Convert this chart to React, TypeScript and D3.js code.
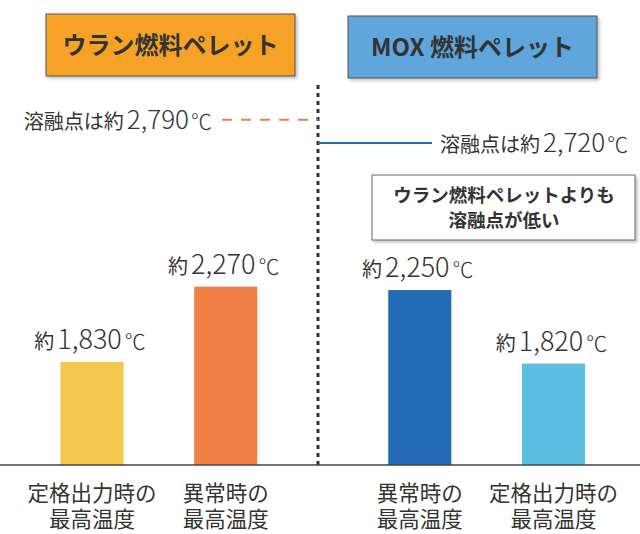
import React from 'react';
import * as d3 from 'd3';

// data
const groupNames = ['ウラン燃料ペレット', 'MOX 燃料ペレット'];
const uraniumCategories = ['定格出力時の最高温度', '異常時の最高温度'];
const uraniumTemps = [1830, 2270];
const moxCategories = ['異常時の最高温度', '定格出力時の最高温度'];
const moxTemps = [2250, 1820];
const meltingPoints = [2790, 2720];
const barColors = [['#f2c94c', '#f07f46'], ['#236bb5', '#5bbee2']];
const headerColors = ['#f5a228', '#5ea6dc'];
const noteLines = ['ウラン燃料ペレットよりも', '溶融点が低い'];

const W = 640;
const H = 534;
const baseY = 465;
const dividerX = 318;
const FONT = '"Noto Sans CJK JP", "Noto Sans", sans-serif';
const TEXT = '#333';

const groups = [
  { name: groupNames[0], cats: uraniumCategories, temps: uraniumTemps, colors: barColors[0] },
  { name: groupNames[1], cats: moxCategories, temps: moxTemps, colors: barColors[1] },
];

// picture is not drawn to scale: a break above the bars
const y = d3.scaleLinear().domain([1227, 2300, 2800]).range([baseY, 281.5, 116.5]);

const xGroup = d3.scaleBand<string>().domain(groupNames).range([-5, 650.5]);
const xInner = d3.scaleBand<number>().domain([0, 1]).range([0, xGroup.bandwidth()])
  .paddingInner(0.528).paddingOuter(0.49);

const fmt = d3.format(',');

function splitCat(c: string) {
  const i = c.indexOf('の');
  return [c.slice(0, i + 1), c.slice(i + 1)];
}

function TempText({ x, yy, value, pre, anchor }: { x: number; yy: number; value: number; pre: string; anchor: string }) {
  return (
    <text x={x} y={yy} textAnchor={anchor} fill={TEXT} fontFamily={FONT}>
      <tspan fontSize={20}>{pre}</tspan>
      <tspan fontSize={27} fontWeight={300} dx={3}>{fmt(value)}</tspan>
      <tspan fontSize={21} fontWeight={300} dx={3}>℃</tspan>
    </text>
  );
}

export default function App() {
  const headers = [
    { x: 46, y: 14, w: 249, h: 62 },
    { x: 348, y: 16, w: 249, h: 62 },
  ];
  return (
    <svg width={W} height={H} style={{ position: 'absolute', left: 0, top: 0 }}>
      <defs>
        <filter id="sh" x="-10%" y="-10%" width="130%" height="140%">
          <feDropShadow dx="2" dy="2" stdDeviation="1.5" floodColor="#000" floodOpacity="0.25" />
        </filter>
      </defs>
      <rect width={W} height={H} fill="#fff" />

      {groups.map((g, gi) => (
        <g key={g.name}>
          <rect x={headers[gi].x} y={headers[gi].y} width={headers[gi].w} height={headers[gi].h}
            fill={headerColors[gi]} stroke="#555" strokeWidth={1} filter="url(#sh)" />
          <text x={headers[gi].x + headers[gi].w / 2} y={headers[gi].y + headers[gi].h / 2 + 9}
            textAnchor="middle" fontFamily={FONT} fontWeight={700} fontSize={24} fill={TEXT}>{g.name}</text>
        </g>
      ))}

      {/* divider */}
      <line x1={dividerX} x2={dividerX} y1={85} y2={baseY} stroke="#333" strokeWidth={3} strokeDasharray="4,4" />

      {/* melting points */}
      <line x1={222} x2={dividerX} y1={y(meltingPoints[0])} y2={y(meltingPoints[0])}
        stroke="#f08048" strokeWidth={2} strokeDasharray="10,9" />
      <text x={212} y={y(meltingPoints[0]) + 9} textAnchor="end" fill={TEXT} fontFamily={FONT}>
        <tspan fontSize={20}>溶融点は約</tspan>
        <tspan fontSize={26} fontWeight={300} dx={3}>{fmt(meltingPoints[0])}</tspan>
        <tspan fontSize={21} fontWeight={300} dx={2}>℃</tspan>
      </text>
      <line x1={dividerX} x2={432} y1={y(meltingPoints[1])} y2={y(meltingPoints[1])}
        stroke="#2a6cb5" strokeWidth={2} />
      <text x={440} y={y(meltingPoints[1]) + 9} textAnchor="start" fill={TEXT} fontFamily={FONT}>
        <tspan fontSize={20}>溶融点は約</tspan>
        <tspan fontSize={26} fontWeight={300} dx={3}>{fmt(meltingPoints[1])}</tspan>
        <tspan fontSize={21} fontWeight={300} dx={2}>℃</tspan>
      </text>

      {/* note */}
      <rect x={372} y={175} width={263} height={65} fill="#fff" stroke="#666" strokeWidth={1} filter="url(#sh)" />
      <text textAnchor="middle" fontFamily={FONT} fontWeight={700} fontSize={18.5} fill={TEXT}>
        {noteLines.map((l, i) => (
          <tspan key={l} x={504} y={202 + i * 25}>{l}</tspan>
        ))}
      </text>

      {/* bars */}
      {groups.map((g, gi) => (
        <g key={g.name} transform={`translate(${xGroup(g.name)},0)`}>
          {g.temps.map((v, i) => {
            const bx = xInner(i)!;
            const cx = bx + xInner.bandwidth() / 2;
            const [l1, l2] = splitCat(g.cats[i]);
            return (
              <g key={i}>
                <rect x={bx} y={y(v)} width={xInner.bandwidth()} height={baseY - y(v)} fill={g.colors[i]} />
                <TempText x={cx - 2} yy={y(v) - 13} value={v} pre="約" anchor="middle" />
                <text textAnchor="middle" fontFamily={FONT} fontSize={21.5} fill={TEXT}>
                  <tspan x={cx} y={501}>{l1}</tspan>
                  <tspan x={cx} y={527}>{l2}</tspan>
                </text>
              </g>
            );
          })}
        </g>
      ))}

      {/* baseline */}
      <line x1={0} x2={W} y1={baseY} y2={baseY} stroke="#444" strokeWidth={1.5} />
    </svg>
  );
}
